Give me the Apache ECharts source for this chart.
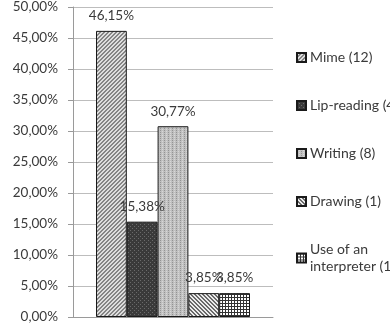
<!DOCTYPE html>
<html>
<head>
<meta charset="utf-8">
<script src="https://cdn.jsdelivr.net/npm/echarts@6/dist/echarts.min.js"></script>
<style>
  html, body { margin: 0; padding: 0; background: #fff; }
  #chart { width: 390px; height: 324px; }
</style>
</head>
<body>
<div id="chart"></div>
<script>
// data
const seriesNames = ['Mime (12)', 'Lip-reading (4)', 'Writing (8)', 'Drawing (1)', 'Use of an interpreter (1)']
const seriesValues = [46.15, 15.38, 30.77, 3.85, 3.85]
const yTicks = [0, 5, 10, 15, 20, 25, 30, 35, 40, 45, 50]

// small canvas patterns to mimic the hatched fills
function makePattern (size, draw) {
  const c = document.createElement('canvas')
  c.width = size
  c.height = size
  const ctx = c.getContext('2d')
  draw(ctx, size)
  return { image: c, repeat: 'repeat' }
}

const patterns = [
  // Mime: fine /// hatch
  makePattern(4, (ctx, s) => {
    ctx.fillStyle = '#dedede'
    ctx.fillRect(0, 0, s, s)
    ctx.fillStyle = '#858585'
    for (let i = 0; i < s; i++) {
      ctx.fillRect((s - 1 - i + s) % s, i, 1, 1)
      ctx.fillRect((s - i + s) % s, i, 1, 1)
    }
  }),
  // Lip-reading: dark with small dots
  makePattern(4, (ctx, s) => {
    ctx.fillStyle = '#3a3a3a'
    ctx.fillRect(0, 0, s, s)
    ctx.fillStyle = '#6a6a6a'
    ctx.fillRect(0, 0, 1, 1)
    ctx.fillRect(2, 2, 1, 1)
  }),
  // Writing: light gray with dotted vertical stripes
  makePattern(4, (ctx, s) => {
    ctx.fillStyle = '#c0c0c0'
    ctx.fillRect(0, 0, s, s)
    ctx.fillStyle = '#939393'
    ctx.fillRect(0, 0, 1, 1)
    ctx.fillRect(0, 2, 1, 1)
    ctx.fillStyle = '#d8d8d8'
    ctx.fillRect(2, 1, 1, 1)
    ctx.fillRect(2, 3, 1, 1)
  }),
  // Drawing: \\\ hatch
  makePattern(4, (ctx, s) => {
    ctx.fillStyle = '#ececec'
    ctx.fillRect(0, 0, s, s)
    ctx.fillStyle = '#6a6a6a'
    for (let i = 0; i < s; i++) {
      ctx.fillRect(i, i, 1, 1)
      ctx.fillRect((i + 1) % s, i, 1, 1)
    }
  }),
  // Use of an interpreter: small grid
  makePattern(3, (ctx, s) => {
    ctx.fillStyle = '#ffffff'
    ctx.fillRect(0, 0, s, s)
    ctx.fillStyle = '#333333'
    ctx.fillRect(0, 0, s, 1)
    ctx.fillRect(0, 0, 1, s)
  })
]

const fmt = v => v.toFixed(2).replace('.', ',') + '%'
const textColor = '#3a3a3a'
const font = 'Lato, "Open Sans", sans-serif'

const myEchart = echarts.init(document.getElementById('chart'))
const option = {
  animation: false,
  textStyle: { fontFamily: font },
  grid: {
    left: 73,
    right: 117,
    top: 7,
    bottom: 6
  },
  legend: {
    orient: 'vertical',
    left: 296,
    top: 49,
    padding: 0,
    itemWidth: 9,
    itemHeight: 9,
    itemGap: 31,
    icon: 'rect',
    textStyle: {
      color: textColor,
      fontSize: 14,
      lineHeight: 17,
      fontFamily: font,
      padding: [0, 0, 0, -1]
    },
    formatter: name => name.replace('Use of an ', 'Use of an\n'),
    data: seriesNames
  },
  xAxis: {
    type: 'category',
    data: [''],
    axisLine: { show: true, lineStyle: { color: '#9a9a9a' } },
    axisTick: { show: false },
    axisLabel: { show: false }
  },
  yAxis: {
    type: 'value',
    min: yTicks[0],
    max: yTicks[yTicks.length - 1],
    interval: 5,
    axisLine: { show: true, lineStyle: { color: '#9a9a9a' } },
    axisTick: { show: true, length: 5, lineStyle: { color: '#9a9a9a' } },
    axisLabel: {
      color: textColor,
      fontSize: 13.5,
      margin: 15,
      formatter: v => fmt(v)
    },
    splitLine: { show: true, lineStyle: { color: '#bdbdbd' } }
  },
  series: seriesNames.map((name, i) => ({
    name: name,
    type: 'bar',
    barGap: '0%',
    barCategoryGap: '23%',
    data: [seriesValues[i]],
    itemStyle: {
      color: patterns[i],
      borderColor: '#1a1a1a',
      borderWidth: 1
    },
    label: {
      show: true,
      position: 'top',
      distance: 8,
      color: textColor,
      fontSize: 13.5,
      formatter: p => fmt(p.value)
    }
  }))
}
myEchart.setOption(option)
window.onresize = () => {
  myEchart.resize()
}
</script>
</body>
</html>
